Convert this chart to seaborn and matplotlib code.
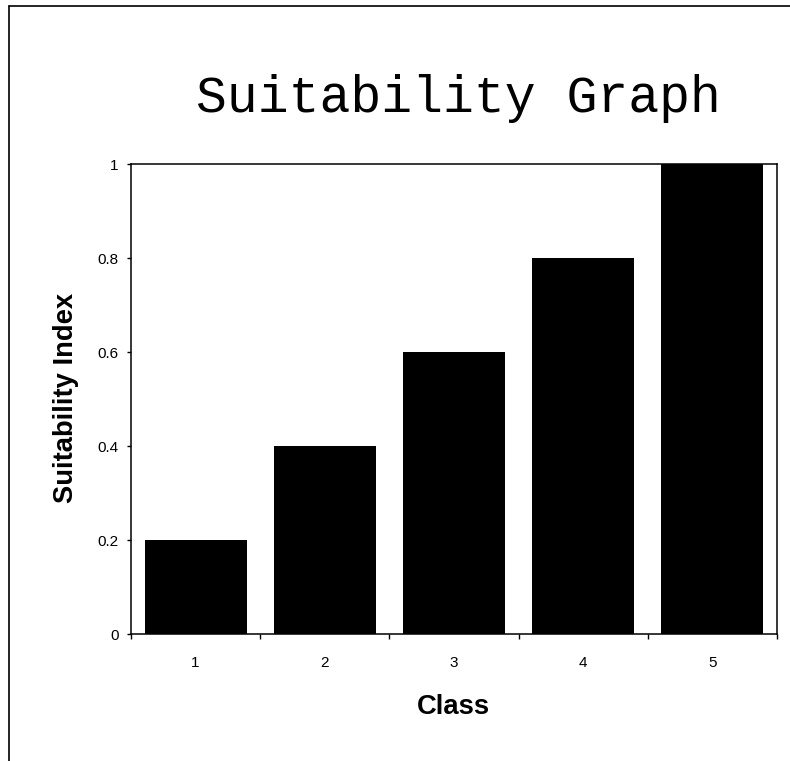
import matplotlib
matplotlib.use("Agg")
import matplotlib.pyplot as plt
from matplotlib.lines import Line2D
from matplotlib.ticker import FixedLocator, NullFormatter
import seaborn as sns
import pandas as pd

# Suitability index per class
classes = ["1", "2", "3", "4", "5"]
suitability = [0.2, 0.4, 0.6, 0.8, 1.0]
y_ticks = [0, 0.2, 0.4, 0.6, 0.8, 1.0]
y_tick_labels = ["0", "0.2", "0.4", "0.6", "0.8", "1"]

sns.set_theme(style="white")
plt.rcParams["font.family"] = ["Liberation Sans", "DejaVu Sans"]
plt.rcParams["text.color"] = "black"
plt.rcParams["xtick.color"] = "black"
plt.rcParams["ytick.color"] = "black"
plt.rcParams["axes.labelcolor"] = "black"

W, H = 790, 761
fig = plt.figure(figsize=(W / 100, H / 100), dpi=100)
ax = fig.add_axes([131 / W, 1 - 634 / H, 646 / W, 470 / H])

df = pd.DataFrame({"Class": classes, "Suitability Index": suitability})
sns.barplot(data=df, x="Class", y="Suitability Index", color="black",
            saturation=1, width=0.79, ax=ax, edgecolor="none", linewidth=0)

ax.set_xlim(-0.5, len(classes) - 0.5)
ax.set_ylim(0, 1)
ax.set_yticks(y_ticks)
ax.set_yticklabels(y_tick_labels, fontsize=11, color="black")
for lbl in ax.get_xticklabels():
    lbl.set_color("black")
ax.set_xlabel("")
ax.set_ylabel("")

# category labels centred, tick marks on category boundaries
ax.tick_params(axis="x", which="major", length=0, pad=15.5, labelsize=11,
               labelcolor="black")
ax.xaxis.set_minor_locator(FixedLocator([i - 0.5 for i in range(len(classes) + 1)]))
ax.xaxis.set_minor_formatter(NullFormatter())
ax.tick_params(axis="x", which="minor", bottom=True, length=3.5, width=1.0,
               color="black", direction="out")
ax.tick_params(axis="y", which="major", left=True, length=3, width=1.0,
               color="black", direction="out", pad=6, labelcolor="black")

for s in ax.spines.values():
    s.set_visible(True)
    s.set_color("black")
    s.set_linewidth(1.1)

fig.text(458 / W, 1 - 112 / H, "Suitability Graph", family="Liberation Mono",
         fontsize=37, ha="center", va="baseline", color="black")
fig.text(66 / W, 1 - 398 / H, "Suitability Index", fontsize=19.7,
         fontweight="bold", rotation=90, ha="center", va="center", color="black")
fig.text(453 / W, 1 - 707 / H, "Class", fontsize=19.7, fontweight="bold",
         ha="center", va="center", color="black")

# outer frame around the chart area
fig.add_artist(Line2D([9 / W, 9 / W], [0, 1 - 6 / H], transform=fig.transFigure,
                      color="black", linewidth=1.2))
fig.add_artist(Line2D([9 / W, 1], [1 - 6 / H, 1 - 6 / H], transform=fig.transFigure,
                      color="black", linewidth=1.2))

fig.savefig("out.png", dpi=100, facecolor="white")
